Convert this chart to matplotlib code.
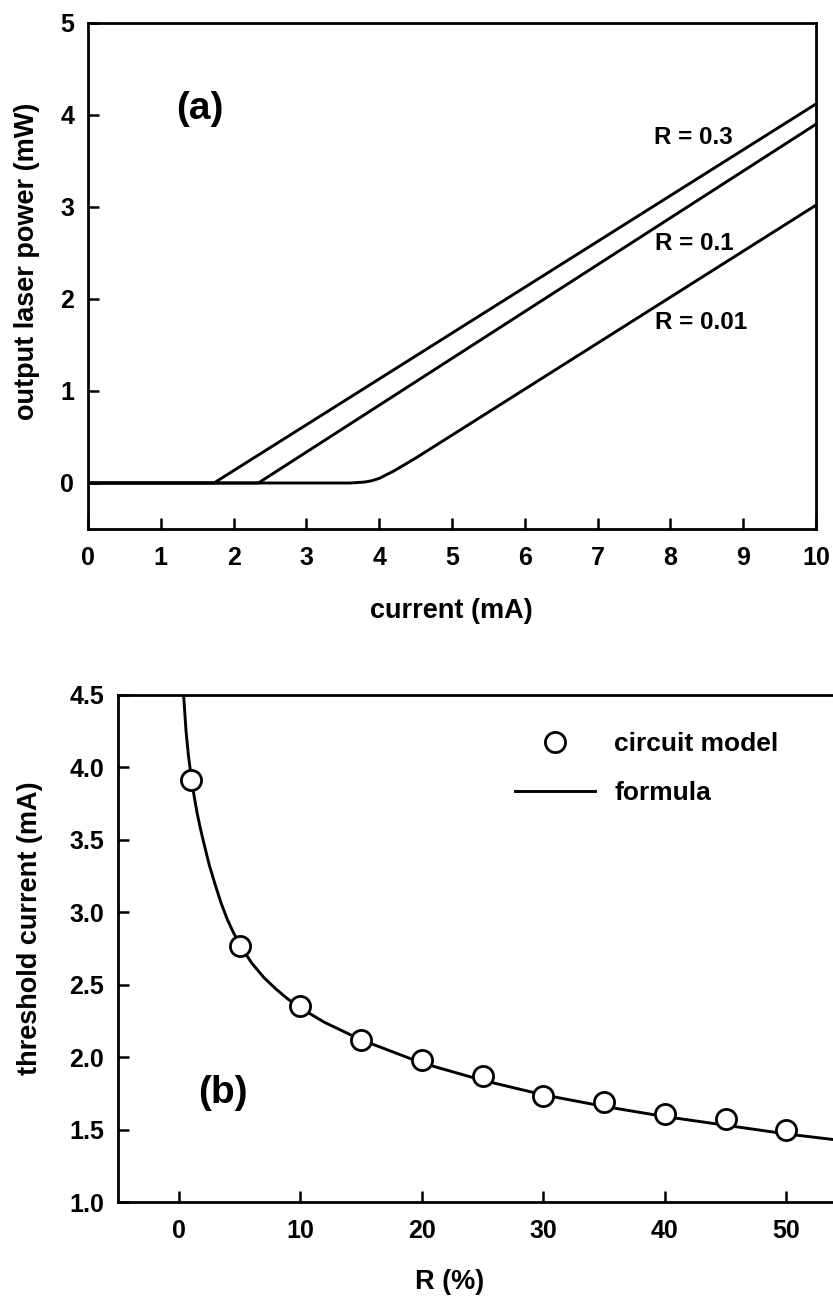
import matplotlib
matplotlib.use("Agg")
import matplotlib.pyplot as plt
from matplotlib.lines import Line2D

plt.rcParams['font.family'] = ['Liberation Sans', 'DejaVu Sans']
plt.rcParams['font.weight'] = 'bold'
plt.rcParams['axes.labelweight'] = 'bold'

# (a) output power vs current for three mirror reflectivities
curr_r03 = [0, 1.73, 10]
pow_r03 = [0, 0, 4.12]
curr_r01 = [0, 2.34, 10]
pow_r01 = [0, 0, 3.9]
curr_r001 = [0, 3.6, 3.8, 3.9, 4.0, 4.1, 4.2, 4.35, 4.5, 10]
pow_r001 = [0, 0, 0.01, 0.025, 0.05, 0.09, 0.13, 0.2, 0.27, 3.02]

# (b) threshold current vs reflectivity
r_model = [1, 5, 10, 15, 20, 25, 30, 35, 40, 45, 50]
ith_model = [3.91, 2.77, 2.35, 2.12, 1.98, 1.87, 1.73, 1.69, 1.61, 1.57, 1.50]
r_formula = [0.3, 0.4, 0.6, 0.8, 1.0, 1.25, 1.5, 1.75, 2, 2.5, 3, 3.5, 4,
             4.5, 5, 6, 7, 8, 9, 10, 12, 15, 20, 25, 30, 35, 40, 45, 50, 55]
ith_formula = [4.75, 4.5, 4.25, 4.08, 3.95, 3.81, 3.69, 3.59, 3.50, 3.33,
               3.19, 3.06, 2.95, 2.86, 2.78, 2.65, 2.55, 2.47, 2.40, 2.34,
               2.24, 2.12, 1.96, 1.84, 1.74, 1.66, 1.59, 1.53, 1.47, 1.42]

FS = 18


def style(ax):
    for s in ax.spines.values():
        s.set_linewidth(2.0)
    ax.tick_params(direction='in', length=8, width=1.8, labelsize=FS,
                   top=False, right=False)
    for lab in ax.get_xticklabels() + ax.get_yticklabels():
        lab.set_fontweight('bold')


fig = plt.figure(figsize=(8.33, 13.01), dpi=100)

# ---- panel (a)
ax1 = fig.add_axes([88 / 833, 1 - 529 / 1301, 728 / 833, 506 / 1301])
for c, p in [(curr_r03, pow_r03), (curr_r01, pow_r01), (curr_r001, pow_r001)]:
    ax1.plot(c, p, color='black', lw=2.1, solid_capstyle='butt')
ax1.set_xlim(0, 10)
ax1.set_ylim(-0.5, 5)
ax1.set_xticks(range(0, 11))
ax1.set_yticks(range(0, 6))
style(ax1)
ax1.tick_params(axis='x', pad=12)
ax1.tick_params(axis='y', pad=10)
ax1.set_xlabel('current (mA)', fontsize=19.5)
ax1.xaxis.set_label_coords(0.499, -0.137)
ax1.set_ylabel('output laser power (mW)', fontsize=19.5)
ax1.yaxis.set_label_coords(-0.066, 0.53)
ax1.text(1.54, 4.07, '(a)', fontsize=28, fontweight='bold', ha='center', va='center')
ax1.text(8.32, 3.76, 'R = 0.3', fontsize=17.5, fontweight='bold', ha='center', va='center')
ax1.text(8.33, 2.60, 'R = 0.1', fontsize=17.5, fontweight='bold', ha='center', va='center')
ax1.text(8.42, 1.74, 'R = 0.01', fontsize=17.5, fontweight='bold', ha='center', va='center')

# ---- panel (b)
ax2 = fig.add_axes([118 / 833, 1 - 1202 / 1301, 729 / 833, 507 / 1301])
ax2.plot(r_formula, ith_formula, color='black', lw=2.1)
ax2.plot(r_model, ith_model, linestyle='none', marker='o', ms=14.5, mfc='white',
         mec='black', mew=2.0)
ax2.set_xlim(-5, 55)
ax2.set_ylim(1.0, 4.5)
ax2.set_xticks([0, 10, 20, 30, 40, 50])
ax2.set_yticks([1.0, 1.5, 2.0, 2.5, 3.0, 3.5, 4.0, 4.5])
ax2.set_yticklabels(['1.0', '1.5', '2.0', '2.5', '3.0', '3.5', '4.0', '4.5'])
style(ax2)
ax2.tick_params(axis='x', pad=12)
ax2.tick_params(axis='y', pad=10)
ax2.set_xlabel('R (%)', fontsize=19.5)
ax2.xaxis.set_label_coords(0.455, -0.132)
ax2.set_ylabel('threshold current (mA)', fontsize=19.5)
ax2.yaxis.set_label_coords(-0.103, 0.54)
ax2.text(3.6, 1.75, '(b)', fontsize=28, fontweight='bold', ha='center', va='center')

handles = [Line2D([], [], linestyle='none', marker='o', ms=14.5, mfc='white',
                  mec='black', mew=2.0),
           Line2D([], [], color='black', lw=2.1)]
ax2.legend(handles, ['circuit model', 'formula'], loc='upper left',
           bbox_to_anchor=((515 - 118) / 729, (1202 - 732) / 507),
           frameon=False, handlelength=3.05, handletextpad=0.72,
           labelspacing=0.94, borderpad=0, borderaxespad=0,
           prop={'weight': 'bold', 'size': 19})

fig.savefig('out.png', dpi=100)
